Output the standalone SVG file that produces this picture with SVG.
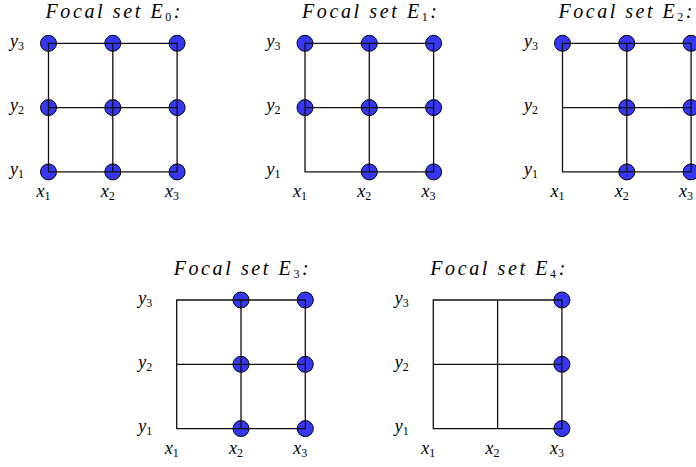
<svg xmlns="http://www.w3.org/2000/svg" width="696" height="467" viewBox="0 0 696 467">
<style>
.g{stroke:#111;stroke-width:1.3;fill:none}
.d{fill:#3636f5;stroke:#000;stroke-width:1}
.t{font-family:"Liberation Serif","DejaVu Serif",serif;font-style:italic;font-size:20px;fill:#000}
.l{font-family:"Liberation Serif","DejaVu Serif",serif;font-style:italic;font-size:18px;fill:#000}
.s{font-style:normal;font-size:12px}
</style>
<defs>
<g id="grid">
<path class="g" d="M0,0H128.6V128.6H0Z M64.3,0V128.6 M0,64.3H128.6"/>
</g>
<g id="labels">
<text class="l" x="-38.5" y="3.5">y<tspan class="s" dy="3">3</tspan></text>
<text class="l" x="-38.5" y="67.8">y<tspan class="s" dy="3">2</tspan></text>
<text class="l" x="-38.5" y="132.1">y<tspan class="s" dy="3">1</tspan></text>
<text class="l" x="-12" y="153.6">x<tspan class="s" dy="3">1</tspan></text>
<text class="l" x="52.3" y="153.6">x<tspan class="s" dy="3">2</tspan></text>
<text class="l" x="116.6" y="153.6">x<tspan class="s" dy="3">3</tspan></text>
</g>
<circle id="dot" class="d" r="8"/>
</defs>
<g id="E0" transform="translate(48.5,43.3)">
<text class="t" x="-3" y="-25" textLength="135" lengthAdjust="spacing">Focal set E<tspan class="s" dy="3">0</tspan><tspan dy="-3">:</tspan></text>
<use href="#labels"/>
<use href="#dot" x="0" y="0"/><use href="#dot" x="64.3" y="0"/><use href="#dot" x="128.6" y="0"/>
<use href="#dot" x="0" y="64.3"/><use href="#dot" x="64.3" y="64.3"/><use href="#dot" x="128.6" y="64.3"/>
<use href="#dot" x="0" y="128.6"/><use href="#dot" x="64.3" y="128.6"/><use href="#dot" x="128.6" y="128.6"/>
<use href="#grid"/>
</g>
<g id="E1" transform="translate(305,43.3)">
<text class="t" x="-3" y="-25" textLength="135" lengthAdjust="spacing">Focal set E<tspan class="s" dy="3">1</tspan><tspan dy="-3">:</tspan></text>
<use href="#labels"/>
<use href="#dot" x="0" y="0"/><use href="#dot" x="64.3" y="0"/><use href="#dot" x="128.6" y="0"/>
<use href="#dot" x="0" y="64.3"/><use href="#dot" x="64.3" y="64.3"/><use href="#dot" x="128.6" y="64.3"/>
<use href="#dot" x="64.3" y="128.6"/><use href="#dot" x="128.6" y="128.6"/>
<use href="#grid"/>
</g>
<g id="E2" transform="translate(562.5,43.3)">
<text class="t" x="-4" y="-25" textLength="134" lengthAdjust="spacing">Focal set E<tspan class="s" dy="3">2</tspan><tspan dy="-3">:</tspan></text>
<use href="#labels"/>
<use href="#dot" x="0" y="0"/><use href="#dot" x="64.3" y="0"/><use href="#dot" x="128.6" y="0"/>
<use href="#dot" x="64.3" y="64.3"/><use href="#dot" x="128.6" y="64.3"/>
<use href="#dot" x="64.3" y="128.6"/><use href="#dot" x="128.6" y="128.6"/>
<use href="#grid"/>
</g>
<g id="E3" transform="translate(176.7,300)">
<text class="t" x="-3" y="-25" textLength="135" lengthAdjust="spacing">Focal set E<tspan class="s" dy="3">3</tspan><tspan dy="-3">:</tspan></text>
<use href="#labels"/>
<use href="#dot" x="64.3" y="0"/><use href="#dot" x="128.6" y="0"/>
<use href="#dot" x="64.3" y="64.3"/><use href="#dot" x="128.6" y="64.3"/>
<use href="#dot" x="64.3" y="128.6"/><use href="#dot" x="128.6" y="128.6"/>
<use href="#grid"/>
</g>
<g id="E4" transform="translate(433.3,300)">
<text class="t" x="-3" y="-25" textLength="135" lengthAdjust="spacing">Focal set E<tspan class="s" dy="3">4</tspan><tspan dy="-3">:</tspan></text>
<use href="#labels"/>
<use href="#dot" x="128.6" y="0"/>
<use href="#dot" x="128.6" y="64.3"/>
<use href="#dot" x="128.6" y="128.6"/>
<use href="#grid"/>
</g>
</svg>
